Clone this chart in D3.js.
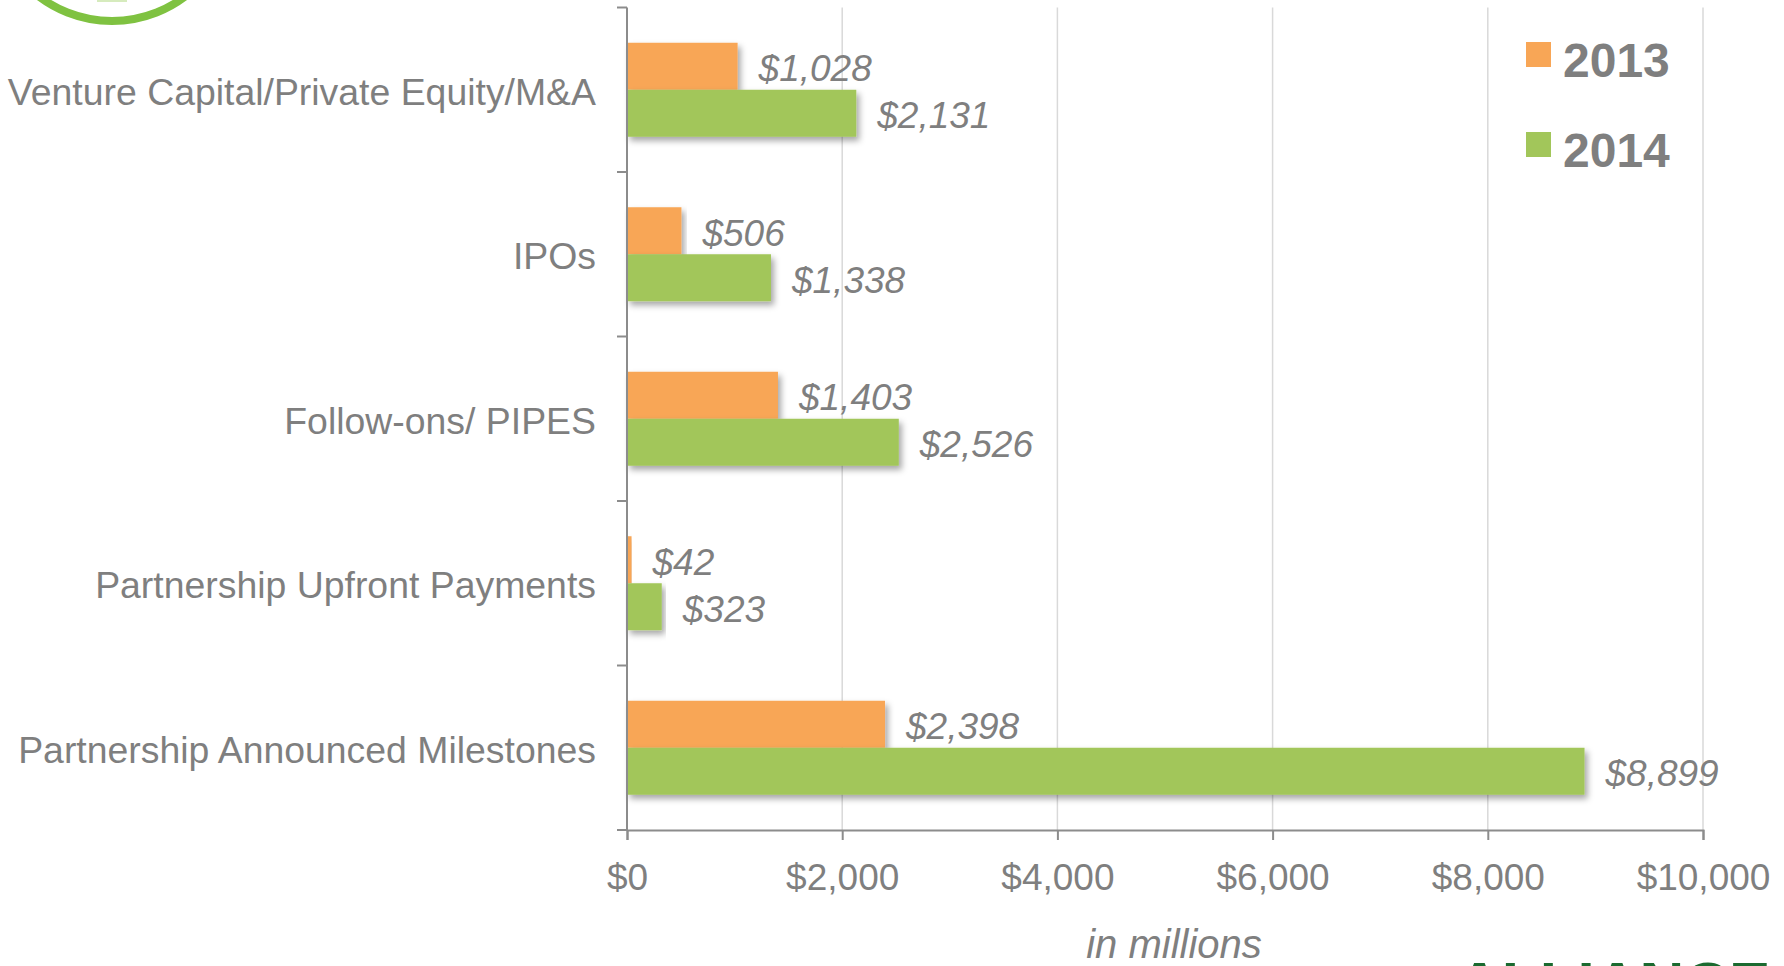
<!DOCTYPE html>
<html lang="en">
	<head>
		<meta charset="utf-8">
		<title>funding by type</title>
		<script type="text/javascript" src="https://d3js.org/d3.v7.min.js"></script>
		<style type="text/css">
            body{
                margin:0;
                background:#fff;
            }
            svg text{
                font-family:"Liberation Sans", Arial, Helvetica, sans-serif;
                fill:#7f7f7f;
            }
		</style>
	</head>
	<body>
        <div id="chart"></div>
		<script type="text/javascript">
            var categories = ["Venture Capital/Private Equity/M&A","IPOs","Follow-ons/ PIPES","Partnership Upfront Payments","Partnership Announced Milestones"]
            var series = ["2013","2014"]
            var values2013 = [1028,506,1403,42,2398]
            var values2014 = [2131,1338,2526,323,8899]
            var xTicks = [0,2000,4000,6000,8000,10000]
            var colors = {"2013":"#f8a656","2014":"#a2c65a"}

            var w = 1784
            var h = 966

            var svg = d3.select("#chart").append("svg")
                .attr("width",w)
                .attr("height",h)

            // soft shadow under the bars
            var defs = svg.append("defs")
            defs.append("filter").attr("id","shadow")
                .attr("x","-5%").attr("y","-20%").attr("width","115%").attr("height","160%")
                .append("feDropShadow")
                .attr("dx",3).attr("dy",4)
                .attr("stdDeviation",3)
                .attr("flood-color","#000")
                .attr("flood-opacity",.35)

            // bit of logo at top left
            svg.append("circle")
                .attr("cx",112).attr("cy",-100).attr("r",121)
                .attr("fill","none")
                .attr("stroke","#7fc241")
                .attr("stroke-width",8)
            svg.append("rect")
                .attr("x",97).attr("y",0).attr("width",30).attr("height",2)
                .attr("fill","#d6ebbd")

            var x = d3.scaleLinear().domain([0,10000]).range([627,1703])
            var y = d3.scaleBand().domain(categories).range([7.5,830])
            var ySub = d3.scaleBand().domain(series).range([0,y.bandwidth()]).paddingOuter(.75)

            var rows = categories.map(function(c,i){
                return {cat:c, vals:[{s:"2013",v:values2013[i]},{s:"2014",v:values2014[i]}]}
            })

            // gridlines
            svg.append("g").selectAll("line")
                .data(xTicks.slice(1))
                .enter().append("line")
                .attr("x1",function(d){return x(d)}).attr("x2",function(d){return x(d)})
                .attr("y1",7.5).attr("y2",830)
                .attr("stroke","#d9d9d9")
                .attr("stroke-width",1.5)

            // bars
            var groups = svg.append("g").selectAll("g")
                .data(rows)
                .enter().append("g")
                .attr("transform",function(d){return "translate(0,"+y(d.cat)+")"})

            groups.selectAll("rect")
                .data(function(d){return d.vals})
                .enter().append("rect")
                .attr("x",x(0))
                .attr("y",function(d){return ySub(d.s)})
                .attr("width",function(d){return x(d.v)-x(0)})
                .attr("height",ySub.bandwidth())
                .attr("fill",function(d){return colors[d.s]})
                .attr("filter","url(#shadow)")

            groups.selectAll("text")
                .data(function(d){return d.vals})
                .enter().append("text")
                .attr("x",function(d){return x(d.v)+21})
                .attr("y",function(d){return ySub(d.s)+ySub.bandwidth()/2+15})
                .attr("font-size","37px")
                .attr("font-style","italic")
                .text(function(d){return "$"+d3.format(",")(d.v)})

            // y axis
            var yAxis = svg.append("g")
            yAxis.append("line")
                .attr("x1",x(0)).attr("x2",x(0))
                .attr("y1",7.5).attr("y2",830)
                .attr("stroke","#8c8c8c").attr("stroke-width",2)
            var bounds = categories.map(function(c){return y(c)}).concat([830])
            yAxis.selectAll(".tk")
                .data(bounds)
                .enter().append("line")
                .attr("x1",617).attr("x2",x(0))
                .attr("y1",function(d){return d}).attr("y2",function(d){return d})
                .attr("stroke","#8c8c8c").attr("stroke-width",2)
            yAxis.selectAll("text")
                .data(categories)
                .enter().append("text")
                .attr("x",596)
                .attr("y",function(d){return y(d)+y.bandwidth()/2+15})
                .attr("text-anchor","end")
                .attr("font-size","37.4px")
                .text(function(d){return d})

            // x axis
            var xAxis = d3.axisBottom(x)
                .tickValues(xTicks)
                .tickSize(10)
                .tickPadding(20)
                .tickFormat(function(d){return "$"+d3.format(",")(d)})
            var gx = svg.append("g")
                .attr("transform","translate(0,830)")
                .call(xAxis)
            gx.select(".domain").attr("stroke","#8c8c8c").attr("stroke-width",2)
            gx.selectAll(".tick line").attr("stroke","#8c8c8c").attr("stroke-width",2)
            gx.selectAll(".tick text")
                .attr("font-size","37px")
                .attr("fill","#7f7f7f")
                .attr("font-family","Liberation Sans, Arial, sans-serif")
                .attr("dy",0).attr("y",60)

            svg.append("text")
                .attr("x",1174).attr("y",958)
                .attr("text-anchor","middle")
                .attr("font-size","40px")
                .attr("font-style","italic")
                .text("in millions")

            // legend
            var legend = svg.append("g").selectAll("g")
                .data(series)
                .enter().append("g")
                .attr("transform",function(d,i){return "translate(1526,"+(42+i*90)+")"})
            legend.append("rect")
                .attr("width",25).attr("height",25)
                .attr("fill",function(d){return colors[d]})
            legend.append("text")
                .attr("x",37).attr("y",35)
                .attr("font-size","48px")
                .attr("font-weight","bold")
                .text(function(d){return d})

            // logo text cut off at the bottom right
            svg.append("text")
                .attr("x",1457).attr("y",1005)
                .attr("font-size","62px")
                .attr("font-weight","bold")
                .style("fill","#1b6a30")
                .text("ALLIANCE")
		</script>
	</body>
</html>
